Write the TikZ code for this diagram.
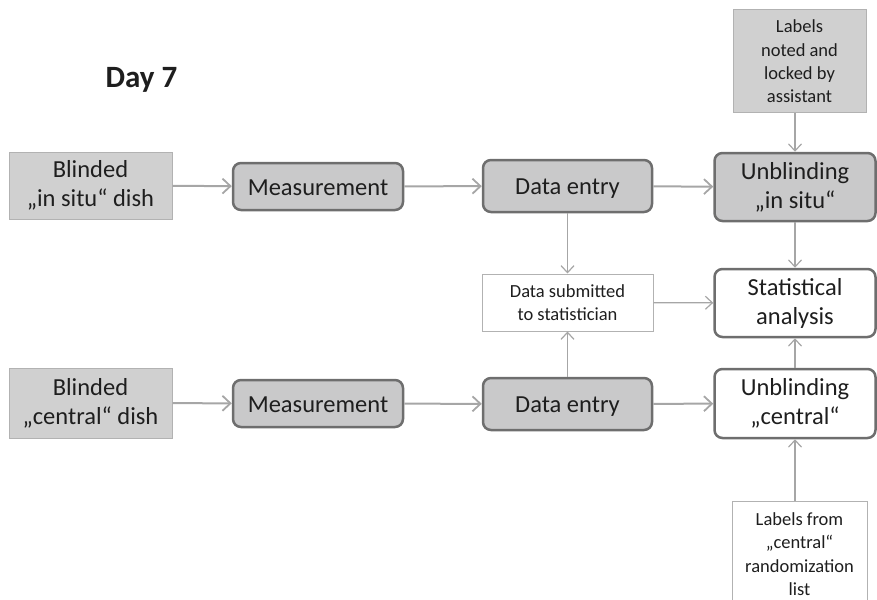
\documentclass[tikz,border=0pt]{standalone}
\usepackage{fontspec}
\setmainfont{Carlito}
\usetikzlibrary{arrows.meta}
\definecolor{boxfill}{HTML}{C9C9CA}
\definecolor{lightfill}{HTML}{D0D0D0}
\definecolor{thickedge}{HTML}{6E6E6E}
\definecolor{thinedge}{HTML}{B2B2B2}
\definecolor{arrowgray}{HTML}{A6A6A6}
\definecolor{txt}{HTML}{1E1E1E}
\newcommand{\lowerby}[2]{\raisebox{-#1}[\height][\depth]{#2}}
\tikzset{
  bigtext/.style={font=\fontsize{24.5}{29}\selectfont, text=txt, align=center, inner sep=0pt},
  smalltext/.style={font=\fontsize{18.5}{23.3}\selectfont, text=txt, align=center, inner sep=0pt},
  graybox/.style={bigtext, draw=thinedge, line width=1pt, fill=lightfill},
  procbox/.style={bigtext, draw=thickedge, line width=2.5pt, fill=boxfill, rounded corners=8pt},
  whiteproc/.style={bigtext, draw=thickedge, line width=2.5pt, fill=white, rounded corners=8pt},
  notebox/.style={smalltext, draw=thinedge, line width=1pt, fill=lightfill},
  whitenote/.style={smalltext, draw=thinedge, line width=1pt, fill=white},
  harrow/.style={draw=arrowgray, line width=2pt, -{Straight Barb[length=8pt,width=15pt,line width=1.8pt]}},
  varrow/.style={draw=arrowgray, line width=1.2pt, -{Straight Barb[length=7pt,width=13pt,line width=1.2pt]}},
}
\begin{document}
\begin{tikzpicture}[x=1pt,y=-1pt]
\useasboundingbox (0,0) rectangle (877,599);
\begin{scope}
\clip (0,0) rectangle (877,599);
\node[font=\fontsize{31}{36}\bfseries, text=txt, anchor=base, inner sep=0pt] (day) at (141.5,88) {Day 7};

\node[graybox, minimum width=163pt, minimum height=67pt] (bis) at (90.5,185.5) {\lowerby{1pt}{\begin{tabular}{@{}c@{}}Blinded\\„in situ“ dish\end{tabular}}};
\node[procbox, minimum width=170pt, minimum height=47pt] (mis) at (318,186.5) {\lowerby{1pt}{Measurement}};
\node[procbox, minimum width=169pt, minimum height=52pt] (deis) at (567.5,186) {\lowerby{3pt}{Data entry}};
\node[procbox, minimum width=161pt, minimum height=68pt] (uis) at (795,187) {\lowerby{1pt}{\begin{tabular}{@{}c@{}}Unblinding\\„in situ“\end{tabular}}};
\node[notebox, minimum width=133pt, minimum height=103pt] (lab1) at (799.5,61.5) {\lowerby{1.5pt}{\begin{tabular}{@{}c@{}}Labels\\noted and\\locked by\\assistant\end{tabular}}};

\node[whitenote, minimum width=171pt, minimum height=57pt] (sub) at (567.5,302.5) {Data submitted\\to statistician};
\node[whiteproc, minimum width=161pt, minimum height=68pt] (stat) at (795,303) {Statistical\\analysis};

\node[graybox, minimum width=163pt, minimum height=70pt] (bc) at (90.5,403) {\lowerby{1pt}{\begin{tabular}{@{}c@{}}Blinded\\„central“ dish\end{tabular}}};
\node[procbox, minimum width=170pt, minimum height=47pt] (mc) at (318,403.5) {\lowerby{1pt}{Measurement}};
\node[procbox, minimum width=169pt, minimum height=52pt] (dec) at (567.5,404) {\lowerby{3pt}{Data entry}};
\node[whiteproc, minimum width=161pt, minimum height=69pt] (uc) at (795,403.5) {\lowerby{1pt}{\begin{tabular}{@{}c@{}}Unblinding\\„central“\end{tabular}}};
\node[whitenote, minimum width=135pt, minimum height=106pt] (lab2) at (799.5,554) {Labels from\\„central“\\randomization\\list};

\draw[harrow] (bis) -- (mis);
\draw[harrow] (mis) -- (deis);
\draw[harrow] (deis) -- (uis);
\draw[harrow] (bc) -- (mc);
\draw[harrow] (mc) -- (dec);
\draw[harrow] (dec) -- (uc);

\draw[varrow] (lab1.south -| uis.north) -- (uis.north);
\draw[varrow] (deis) -- (sub);
\draw[varrow] (dec) -- (sub);
\draw[varrow] (sub) -- (stat);
\draw[varrow] (uis) -- (stat);
\draw[varrow] (uc) -- (stat);
\draw[varrow] (lab2.north -| uc.south) -- (uc.south);
\end{scope}
\end{tikzpicture}
\end{document}
